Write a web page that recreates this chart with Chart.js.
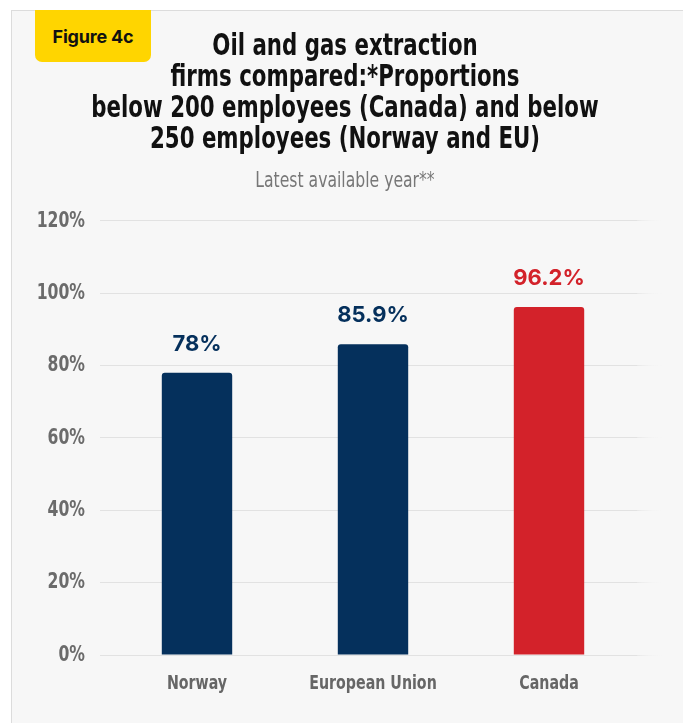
<!DOCTYPE html>
<html>
<head>
<meta charset="utf-8">
<script src="https://cdn.jsdelivr.net/npm/chart.js@4"></script>
<style>
  html, body { margin: 0; padding: 0; background: #ffffff; }
  body { width: 683px; height: 723px; position: relative; overflow: hidden; }
  #panel {
    position: absolute; left: 11px; top: 10px; width: 680px; height: 720px;
    background: #f7f7f7; border-left: 1px solid #dcdcdc; border-top: 1px solid #dcdcdc;
  }
  #badge {
    position: absolute; left: 35px; top: 10px; width: 116px; height: 52px;
    background: #ffd500; border-radius: 0 0 7px 7px;
    font: 700 18px Inter, "Noto Sans", sans-serif; color: #111;
    display: flex; align-items: center; justify-content: center; letter-spacing: -0.2px;
  }
  #chart { position: absolute; left: 0; top: 0; }
</style>
</head>
<body>
<div id="panel"></div>
<canvas id="chart" width="683" height="723"></canvas>
<div id="badge">Figure 4c</div>
<script>
// Data
const categories = ['Norway', 'European Union', 'Canada'];
const shares = [78, 85.9, 96.2];
const barColors = ['#05305c', '#05305c', '#d3222a'];
const yTickValues = [0, 20, 40, 60, 80, 100, 120];
const titleLines = [
  'Oil and gas extraction',
  'firms compared:*Proportions',
  'below 200 employees (Canada) and below',
  '250 employees (Norway and EU)'
];
const subtitleText = 'Latest available year**';

const NARROW = "'DejaVu Sans Condensed', 'DejaVu Sans', sans-serif";
const NARROW_SCALE = 0.79;

const ctx = document.getElementById('chart').getContext('2d');

// Squeeze the condensed headline/axis face horizontally around its anchor point
const baseFillText = ctx.fillText.bind(ctx);
ctx.fillText = function (text, x, y, maxWidth) {
  if (this.font.indexOf('Condensed') !== -1) {
    this.save();
    this.translate(x, y);
    this.scale(NARROW_SCALE, 1);
    if (maxWidth !== undefined) baseFillText(text, 0, 0, maxWidth / NARROW_SCALE);
    else baseFillText(text, 0, 0);
    this.restore();
  } else if (maxWidth !== undefined) {
    baseFillText(text, x, y, maxWidth);
  } else {
    baseFillText(text, x, y);
  }
};

// Value labels above each bar
const valueLabels = {
  id: 'valueLabels',
  afterDatasetsDraw(chart) {
    const c = chart.ctx;
    const meta = chart.getDatasetMeta(0);
    c.save();
    c.font = "700 22px Inter, 'Noto Sans', sans-serif";
    c.textAlign = 'center';
    c.textBaseline = 'alphabetic';
    meta.data.forEach((bar, i) => {
      c.fillStyle = barColors[i];
      c.fillText(shares[i] + '%', bar.x, bar.y - 22);
    });
    c.restore();
  }
};

new Chart(ctx, {
  type: 'bar',
  data: {
    labels: categories,
    datasets: [{
      data: shares,
      backgroundColor: barColors,
      borderRadius: { topLeft: 3, topRight: 3 },
      borderSkipped: 'bottom',
      barPercentage: 0.4,
      categoryPercentage: 1.0,
      yAxisID: 'y'
    }]
  },
  options: {
    responsive: false,
    animation: false,
    layout: { padding: { left: 7, right: 0, top: 0, bottom: 0 } },
    plugins: {
      legend: { display: false },
      tooltip: { enabled: false },
      title: {
        display: true,
        text: titleLines,
        color: '#111111',
        font: { family: NARROW, size: 30, weight: 'bold', lineHeight: 1.03 },
        padding: { top: 32, bottom: 13 }
      },
      subtitle: {
        display: true,
        text: subtitleText,
        color: '#777777',
        font: { family: NARROW, size: 22, weight: 'normal', lineHeight: 1.15 },
        padding: { top: 0, bottom: 27 }
      }
    },
    scales: {
      x: {
        grid: { display: false },
        border: { display: false },
        ticks: {
          color: '#666666',
          font: { family: NARROW, size: 20, weight: 'bold' },
          padding: 9
        },
        afterFit(scale) { scale.height = 68; }
      },
      y: {
        min: 0, max: 120,
        afterBuildTicks(scale) { scale.ticks = yTickValues.map(v => ({ value: v })); },
        ticks: {
          color: '#6b6b6b',
          font: { family: NARROW, size: 22, weight: 'bold' },
          padding: 15,
          callback: v => v + '%'
        },
        grid: { color: '#e2e2e2', lineWidth: 1, tickLength: 9, drawTicks: true },
        border: { display: false },
        afterFit(scale) { scale.width = 102; }
      },
      y2: {
        position: 'right',
        min: 0, max: 120,
        afterBuildTicks(scale) { scale.ticks = yTickValues.map(v => ({ value: v })); },
        ticks: { display: false },
        grid: {
          drawOnChartArea: false,
          drawTicks: true,
          tickLength: 26,
          color(c) {
            const area = c.chart.chartArea;
            if (!area) return '#e2e2e2';
            const g = c.chart.ctx.createLinearGradient(area.right - 4, 0, area.right + 26, 0);
            g.addColorStop(0, '#e2e2e2');
            g.addColorStop(1, 'rgba(247,247,247,0)');
            return g;
          }
        },
        border: { display: false },
        afterFit(scale) { scale.width = 46; }
      }
    }
  },
  plugins: [valueLabels]
});
</script>
</body>
</html>
